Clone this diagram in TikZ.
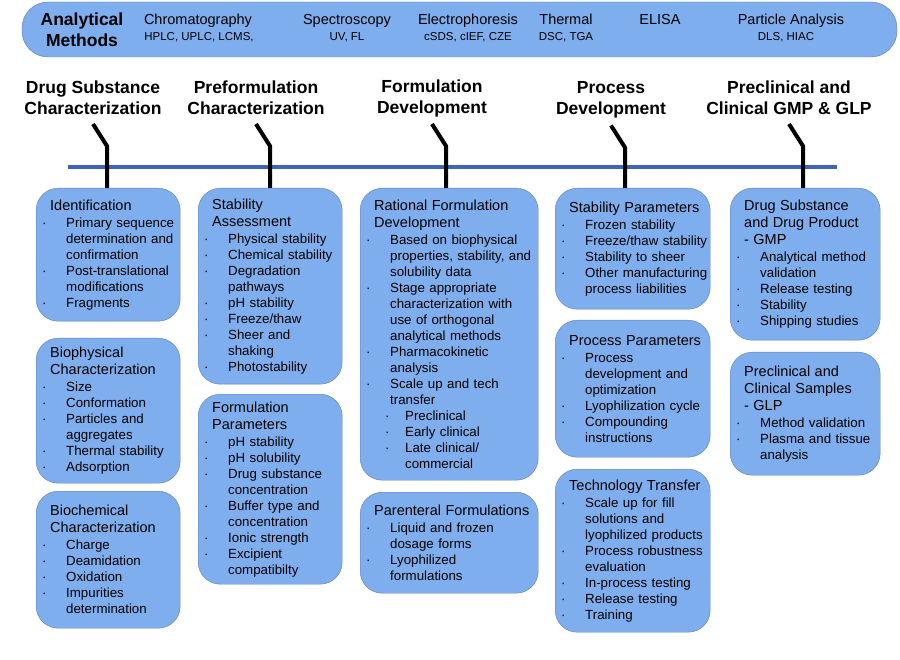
\documentclass[tikz,border=0pt]{standalone}
\usepackage{fontspec}
\setmainfont{Liberation Sans}
\usetikzlibrary{positioning}
\definecolor{cardfill}{RGB}{126,174,238}
\definecolor{cardline}{RGB}{92,126,176}
\definecolor{tlblue}{RGB}{62,100,185}
\newcommand{\ttl}[1]{\mbox{\hspace*{8pt}\fontsize{14.5}{17}\selectfont #1}}
\newcommand{\bul}[1]{\mbox{\makebox[24pt][l]{·}#1}}
\newcommand{\bulc}[1]{\mbox{\hspace*{24pt}#1}}
\newcommand{\sbul}[1]{\mbox{\makebox[39pt][l]{\hspace*{19pt}·}#1}}
\newcommand{\sbulc}[1]{\mbox{\hspace*{39pt}#1}}

\begin{document}
\begin{tikzpicture}[x=1pt, y=-1pt,
  bar/.style={draw=cardline, fill=cardfill, rounded corners=26pt},
  method/.style={font=\fontsize{14.5}{17}\selectfont, anchor=base, inner sep=0pt},
  methsub/.style={font=\fontsize{11.5}{14}\selectfont, anchor=base, inner sep=0pt},
  stage/.style={font=\bfseries\fontsize{17.5}{21}\selectfont, align=center},
  card/.style={draw=cardline, fill=cardfill, rounded corners=22pt, anchor=north west,
    inner xsep=6pt, inner ysep=0pt, align=left, font=\fontsize{13.3}{16}\selectfont},
  link/.style={line width=4pt, line join=round}]
\path[use as bounding box] (0,0) rectangle (900,660);
% analytical methods bar
\node[bar, minimum width=875pt, minimum height=55pt] (methods) at (459.5,29.5) {};
\node[stage] (analyt) at (82,30) {Analytical\\Methods};
\node[method] (chrom) at (198,25) {Chromatography};
\node[methsub] (chromsub) at (199,41) {HPLC, UPLC, LCMS,};
\node[method] (spec) at (347,25) {Spectroscopy};
\node[methsub] (specsub) at (347,41) {UV, FL};
\node[method] (elec) at (468,25) {Electrophoresis};
\node[methsub] (elecsub) at (468,41) {cSDS, cIEF, CZE};
\node[method] (therm) at (566,25) {Thermal};
\node[methsub] (thermsub) at (566,41) {DSC, TGA};
\node[method] (elisa) at (660,25) {ELISA};
\node[method] (part) at (791,25) {Particle Analysis};
\node[methsub] (partsub) at (786,41) {DLS, HIAC};
% stages
\node[stage] (hdr1) at (93,98) {Drug Substance\\Characterization};
\node[stage] (hdr2) at (256,98) {Preformulation\\Characterization};
\node[stage] (hdr3) at (432,98) {Formulation\\Development};
\node[stage] (hdr4) at (611,99.5) {Process\\Development};
\node[stage] (hdr5) at (789,98) {Preclinical and\\Clinical GMP \& GLP};
% column 1
\node[card, text width=132pt, minimum height=133pt] (ident) at (36,188) {%
\ttl{Identification}\\[1pt]
\bul{Primary sequence}\\ \bulc{determination and}\\ \bulc{confirmation}\\
\bul{Post-translational}\\ \bulc{modifications}\\
\bul{Fragments}};
\node[card, text width=132pt, minimum height=145pt] (biophys) at (36,338) {%
\ttl{Biophysical}\\[1pt] \ttl{Characterization}\\[1pt]
\bul{Size}\\ \bul{Conformation}\\ \bul{Particles and}\\ \bulc{aggregates}\\
\bul{Thermal stability}\\ \bul{Adsorption}};
\node[card, text width=132pt, minimum height=137pt] (biochem) at (36,491) {%
\ttl{Biochemical}\\[1pt] \ttl{Characterization}\\[1pt]
\bul{Charge}\\ \bul{Deamidation}\\ \bul{Oxidation}\\ \bul{Impurities}\\
\bulc{determination}};
% column 2
\node[card, text width=132pt, minimum height=196pt] (stabassess) at (198,188) {%
\ttl{Stability}\\[1pt] \ttl{Assessment}\\[1pt]
\bul{Physical stability}\\ \bul{Chemical stability}\\ \bul{Degradation}\\
\bulc{pathways}\\ \bul{pH stability}\\ \bul{Freeze/thaw}\\ \bul{Sheer and}\\
\bulc{shaking}\\ \bul{Photostability}};
\node[card, text width=132pt, minimum height=190pt] (formparam) at (198,394) {%
\ttl{Formulation}\\[1pt] \ttl{Parameters}\\[1pt]
\bul{pH stability}\\ \bul{pH solubility}\\ \bul{Drug substance}\\
\bulc{concentration}\\ \bul{Buffer type and}\\ \bulc{concentration}\\
\bul{Ionic strength}\\ \bul{Excipient}\\ \bulc{compatibilty}};
% column 3
\node[card, text width=166pt, minimum height=292pt] (rational) at (360,188) {%
\ttl{Rational Formulation}\\[1pt] \ttl{Development}\\[1pt]
\bul{Based on biophysical}\\ \bulc{properties, stability, and}\\
\bulc{solubility data}\\ \bul{Stage appropriate}\\ \bulc{characterization with}\\
\bulc{use of orthogonal}\\ \bulc{analytical methods}\\ \bul{Pharmacokinetic}\\
\bulc{analysis}\\ \bul{Scale up and tech}\\ \bulc{transfer}\\
\sbul{Preclinical}\\ \sbul{Early clinical}\\ \sbul{Late clinical/}\\
\sbulc{commercial}};
\node[card, text width=166pt, minimum height=101pt] (parenteral) at (360,492) {%
\ttl{Parenteral Formulations}\\[1pt]
\bul{Liquid and frozen}\\ \bulc{dosage forms}\\ \bul{Lyophilized}\\
\bulc{formulations}};
% column 4
\node[card, text width=143pt, minimum height=121pt] (stabparam) at (555,188) {%
\ttl{Stability Parameters}\\[1pt]
\bul{Frozen stability}\\ \bul{Freeze/thaw stability}\\ \bul{Stability to sheer}\\
\bul{Other manufacturing}\\ \bulc{process liabilities}};
\node[card, text width=143pt, minimum height=137pt] (procparam) at (555,320) {%
\ttl{Process Parameters}\\[1pt]
\bul{Process}\\ \bulc{development and}\\ \bulc{optimization}\\
\bul{Lyophilization cycle}\\ \bul{Compounding}\\ \bulc{instructions}};
\node[card, text width=143pt, minimum height=163pt] (techtrans) at (555,469) {%
\ttl{Technology Transfer}\\[1pt]
\bul{Scale up for fill}\\ \bulc{solutions and}\\ \bulc{lyophilized products}\\
\bul{Process robustness}\\ \bulc{evaluation}\\ \bul{In-process testing}\\
\bul{Release testing}\\ \bul{Training}};
% column 5
\node[card, text width=138pt, minimum height=152pt] (gmp) at (730,188) {%
\ttl{Drug Substance}\\[1pt] \ttl{and Drug Product}\\[1pt] \ttl{- GMP}\\[1pt]
\bul{Analytical method}\\ \bulc{validation}\\ \bul{Release testing}\\
\bul{Stability}\\ \bul{Shipping studies}};
\node[card, text width=138pt, minimum height=123pt] (glp) at (730,352) {%
\ttl{Preclinical and}\\[1pt] \ttl{Clinical Samples}\\[1pt] \ttl{- GLP}\\[1pt]
\bul{Method validation}\\ \bul{Plasma and tissue}\\ \bulc{analysis}};
% timeline and links
\coordinate (tl-a) at (68,167);
\coordinate (tl-b) at (837,167);
\draw[tlblue, line width=4.5pt] (tl-a) -- (tl-b);
\draw[link] ([yshift=-26pt]hdr1.center) -- ++(14,22) coordinate (k1) -- (k1 |- ident.north);
\draw[link] ([yshift=-26pt]hdr2.center) -- ++(14,22) coordinate (k2) -- (k2 |- stabassess.north);
\draw[link] ([yshift=-26pt]hdr3.center) -- ++(14,22) coordinate (k3) -- (k3 |- rational.north);
\draw[link] ([yshift=-26pt]hdr4.center) -- ++(14,22) coordinate (k4) -- (k4 |- stabparam.north);
\draw[link] ([yshift=-26pt]hdr5.center) -- ++(14,22) coordinate (k5) -- (k5 |- gmp.north);
\end{tikzpicture}
\end{document}
